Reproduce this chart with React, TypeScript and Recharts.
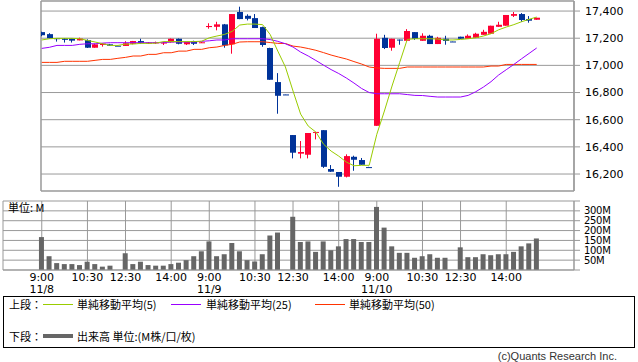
import { ComposedChart, Bar, Line, XAxis, YAxis, CartesianGrid, ReferenceArea } from 'recharts';

// 15-minute slots, 22 per session (9:00 … 15:00), three sessions: 11/8, 11/9, 11/10
const openPrices = [
  17245, 17230, 17200, 17198, 17198, 17184, 17186, 17130, 17150, 17155, 17145, 17143, 17159, 17179, 17160, 17162, 17165, 17170, 17196, 17155, 17179, 17168,
  17282, 17284, 17302, 17155, 17393, 17365, 17348, 17282, 17128, 16877, 16786, 16487, 16350, 16342, 16505, 16523, 16237, 16215, 16180, 16327, 16303, 16251,
  16555, 17203, 17130, 17190, 17181, 17245, 17181, 17218, 17157, 17196, 17176, 17211, 17196, 17203, 17225, 17233, 17284, 17292, 17365, 17378, 17341, 17336,
];
const highPrices = [
  17248, 17237, 17200, 17200, 17200, 17204, 17192, 17160, 17162, 17158, 17146, 17178, 17180, 17196, 17172, 17175, 17175, 17198, 17198, 17175, 17182, 17172,
  17310, 17321, 17305, 17378, 17432, 17376, 17378, 17285, 17130, 16943, 16788, 16487, 16443, 16502, 16510, 16523, 16266, 16215, 16345, 16335, 16318, 16253,
  17233, 17225, 17196, 17190, 17267, 17245, 17236, 17225, 17210, 17218, 17178, 17211, 17228, 17240, 17262, 17292, 17321, 17371, 17393, 17385, 17363, 17351,
];
const lowPrices = [
  17215, 17198, 17175, 17168, 17168, 17184, 17128, 17130, 17138, 17143, 17144, 17143, 17155, 17160, 17158, 17158, 17150, 17168, 17155, 17150, 17150, 17165,
  17270, 17258, 17130, 17086, 17340, 17331, 17275, 17137, 16894, 16644, 16786, 16315, 16315, 16315, 16455, 16245, 16215, 16106, 16175, 16224, 16268, 16251,
  16555, 17120, 17108, 17152, 17181, 17188, 17181, 17157, 17157, 17152, 17176, 17196, 17196, 17203, 17225, 17233, 17284, 17292, 17356, 17321, 17314, 17336,
];
const closePrices = [
  17222, 17200, 17195, 17188, 17182, 17197, 17130, 17155, 17160, 17145, 17145, 17163, 17179, 17164, 17168, 17170, 17168, 17196, 17159, 17172, 17159, 17170,
  17290, 17302, 17147, 17378, 17341, 17343, 17275, 17150, 16894, 16776, 16786, 16357, 16362, 16502, 16510, 16253, 16217, 16180, 16332, 16305, 16268, 16251,
  17196, 17128, 17196, 17187, 17253, 17196, 17218, 17157, 17203, 17180, 17176, 17196, 17218, 17233, 17247, 17292, 17299, 17371, 17378, 17334, 17329, 17351,
];
const volumes = [
  167, 70, 35, 30, 30, 25, 42, 30, 17, 22, 0, 85, 30, 42, 25, 22, 22, 30, 37, 50, 70, 95,
  145, 70, 80, 137, 95, 50, 43, 80, 175, 190, 0, 270, 142, 145, 92, 145, 100, 120, 157, 157, 142, 142,
  320, 215, 120, 87, 87, 62, 70, 80, 62, 62, 0, 115, 65, 65, 80, 75, 80, 80, 92, 120, 135, 160,
];
const ma5 = [
  17187, 17196, 17199, 17199, 17199, 17196, 17184, 17172, 17159, 17147, 17147, 17157, 17157, 17162, 17162, 17164, 17175, 17175, 17175, 17175, 17175, 17178,
  17203, 17216, 17228, 17250, 17297, 17304, 17304, 17300, 17227, 17105, 16988, 16811, 16641, 16553, 16509, 16420, 16369, 16332, 16288, 16261, 16264, 16264,
  16492, 16664, 16848, 17020, 17191, 17196, 17196, 17196, 17194, 17187, 17187, 17191, 17196, 17203, 17216, 17233, 17262, 17282, 17300, 17321, 17339, 17356,
];
const ma25 = [
  17125, 17133, 17147, 17147, 17147, 17155, 17159, 17159, 17164, 17167, 17167, 17167, 17167, 17167, 17167, 17167, 17167, 17172, 17172, 17172, 17172, 17177,
  17181, 17187, 17187, 17196, 17196, 17196, 17196, 17196, 17190, 17177, 17159, 17135, 17098, 17069, 17036, 17002, 16969, 16940, 16907, 16870, 16830, 16800,
  16791, 16791, 16791, 16791, 16785, 16779, 16778, 16772, 16767, 16767, 16767, 16767, 16779, 16806, 16840, 16880, 16929, 16968, 17007, 17048, 17088, 17128,
];
const ma50 = [
  17022, 17022, 17022, 17030, 17030, 17030, 17030, 17037, 17044, 17044, 17052, 17059, 17069, 17069, 17081, 17081, 17093, 17093, 17105, 17105, 17118, 17118,
  17130, 17135, 17147, 17155, 17172, 17174, 17174, 17174, 17168, 17162, 17161, 17142, 17135, 17124, 17111, 17094, 17076, 17061, 17047, 17028, 17010, 16988,
  16981, 16978, 16978, 16978, 16988, 16988, 16988, 16988, 16988, 16988, 16988, 16988, 16988, 16988, 16988, 16995, 16995, 17007, 17007, 17007, 17007, 17007,
];

const tickSlots = [0, 6, 11, 17, 22, 28, 33, 39, 44, 50, 55, 61];
const tickTimes = ['9:00', '10:30', '12:30', '14:00', '9:00', '10:30', '12:30', '14:00', '9:00', '10:30', '12:30', '14:00'];
const tickDates = ['11/8', '', '', '', '11/9', '', '', '', '11/10', '', '', ''];
const priceTicks = [16200, 16400, 16600, 16800, 17000, 17200, 17400];
const volumeTicks = [0, 50, 100, 150, 200, 250, 300, 350];

const UP = '#ff0033';
const DOWN = '#003399';
const GRID = '#999999';
const FONT = '"DejaVu Sans", sans-serif';
const JP = '"Noto Sans CJK JP", sans-serif';

const data = openPrices.map((o, i) => ({
  slot: i,
  o,
  h: highPrices[i],
  l: lowPrices[i],
  c: closePrices[i],
  range: [lowPrices[i], highPrices[i]],
  vol: volumes[i],
  ma5: ma5[i],
  ma25: ma25[i],
  ma50: ma50[i],
}));

function Candle(props: any) {
  let { x, y, width, height } = props;
  const { o, h, l, c } = props.payload;
  if (height < 0) {
    y += height;
    height = -height;
  }
  // unchanged slots (no trades) are drawn as a blue dash, like the original
  const color = c > o ? UP : DOWN;
  const cx = Math.round(x + width / 2) - 0.5;
  const k = h > l ? height / (h - l) : 0;
  const yo = y + (h - o) * k;
  const yc = y + (h - c) * k;
  const top = Math.min(yo, yc);
  const bh = Math.max(Math.abs(yo - yc), 1);
  return (
    <g>
      <line x1={cx} x2={cx} y1={y} y2={y + height} stroke={color} strokeWidth={1} />
      <rect x={Math.round(x)} y={top} width={width} height={bh} fill={color} />
    </g>
  );
}

function TimeTick(props: any) {
  const { x, y, payload } = props;
  const idx = tickSlots.indexOf(payload.value);
  if (idx < 0) return null;
  return (
    <g fontFamily={FONT} fontSize={11} fill="#000">
      <text x={x} y={y + 11} textAnchor="middle">{tickTimes[idx]}</text>
      {tickDates[idx] && (
        <text x={x} y={y + 23} textAnchor="middle">{tickDates[idx]}</text>
      )}
    </g>
  );
}

const fmtPrice = (v: number) => v.toLocaleString('en-US');
const fmtVol = (v: number) => (v === 0 || v === 350 ? '' : `${v}M`);

function LegendLine({ left, top, color, thick }: { left: number; top: number; color: string; thick?: number }) {
  return <div style={{ position: 'absolute', left, top: top - (thick ?? 1) / 2, width: 30, height: thick ?? 1, background: color }} />;
}

export default function App() {
  const txt = { position: 'absolute' as const, fontFamily: JP, fontSize: 11, lineHeight: '14px', color: '#000', whiteSpace: 'nowrap' as const };
  return (
    <div style={{ position: 'absolute', left: 0, top: 0, width: 638, height: 362, background: '#fff' }}>
      <div style={{ position: 'absolute', left: 0, top: 0 }}>
        <ComposedChart width={638} height={192} data={data} margin={{ top: 1, right: 0, bottom: 0, left: 41 }}>
          <CartesianGrid stroke={GRID} horizontal vertical />
          <XAxis dataKey="slot" type="number" domain={[-0.1, 69.9]} allowDataOverflow ticks={tickSlots}
            tick={false} tickLine={false} axisLine={false} height={1} />
          <YAxis orientation="right" domain={[16075, 17474]} allowDataOverflow ticks={priceTicks} width={64}
            tickFormatter={fmtPrice} tickSize={6} tickMargin={5} stroke={GRID} interval={0}
            tick={{ fill: '#000', fontSize: 11, fontFamily: FONT }} />
          <ReferenceArea x1={-0.1} x2={69.9} y1={16075} y2={17474} fill="none" stroke={GRID} ifOverflow="visible" />
          <Bar dataKey="range" barSize={6} shape={Candle} isAnimationActive={false} />
          <Line dataKey="ma50" stroke="#ff3300" strokeWidth={1} dot={false} type="linear" isAnimationActive={false} />
          <Line dataKey="ma25" stroke="#9900ff" strokeWidth={1} dot={false} type="linear" isAnimationActive={false} />
          <Line dataKey="ma5" stroke="#99cc00" strokeWidth={1} dot={false} type="linear" isAnimationActive={false} />
        </ComposedChart>
      </div>

      <div style={{ position: 'absolute', left: 0, top: 200 }}>
        <ComposedChart width={638} height={100} data={data} margin={{ top: 1, right: 0, bottom: 0, left: 3 }}>
          <CartesianGrid stroke={GRID} horizontal vertical />
          <XAxis dataKey="slot" type="number" domain={[-5.09, 69.9]} allowDataOverflow ticks={tickSlots}
            tick={<TimeTick />} tickLine={false} tickSize={0} tickMargin={0} stroke={GRID} height={30} interval={0} />
          <YAxis orientation="right" domain={[0, 350]} allowDataOverflow ticks={volumeTicks} width={64}
            tickFormatter={fmtVol} tickSize={6} tickMargin={4} stroke={GRID} interval={0}
            tick={{ fill: '#000', fontSize: 10, fontFamily: FONT, letterSpacing: -0.3 }} />
          <Bar dataKey="vol" barSize={5} fill="#666666" isAnimationActive={false} />
        </ComposedChart>
      </div>
      <div style={{ ...txt, left: 8, top: 200 }}>単位: M</div>

      <div style={{ position: 'absolute', left: 3, top: 296, width: 630, height: 50, border: '1px solid #000' }} />
      <div style={{ ...txt, left: 9, top: 297 }}>上段：</div>
      <LegendLine left={43} top={304} color="#99cc00" />
      <div style={{ ...txt, left: 77, top: 297 }}>単純移動平均(5)</div>
      <LegendLine left={171} top={304} color="#9900ff" />
      <div style={{ ...txt, left: 206, top: 297 }}>単純移動平均(25)</div>
      <LegendLine left={315} top={304} color="#ff3300" />
      <div style={{ ...txt, left: 349, top: 297 }}>単純移動平均(50)</div>
      <div style={{ ...txt, left: 9, top: 329 }}>下段：</div>
      <LegendLine left={43} top={336} color="#666666" thick={4} />
      <div style={{ ...txt, left: 77, top: 329 }}>出来高 単位:(M株/口/枚)</div>

      <div style={{ ...txt, fontFamily: '"Liberation Sans", sans-serif', right: 21, top: 349, color: '#333' }}>(c)Quants Research Inc.</div>
    </div>
  );
}
